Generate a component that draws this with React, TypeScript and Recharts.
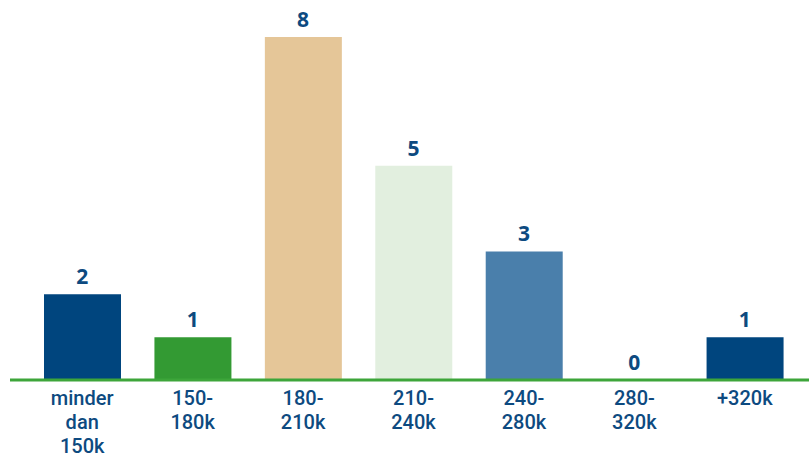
import { ComposedChart, Bar, Line, XAxis, YAxis, Cell, LabelList } from "recharts"

const categories = ["minder dan 150k", "150- 180k", "180- 210k", "210- 240k", "240- 280k", "280- 320k", "+320k"]
const counts = [2, 1, 8, 5, 3, 0, 1]
const barColors = ["#00457e", "#339a33", "#e5c698", "#e2efdf", "#4a7fab", "#00457e", "#00457e"]

const data = categories.map((name, i) => ({ name, count: counts[i] }))

const textColor = "#0d4a80"
const font = "'Open Sans', sans-serif"
const tickFont = "Roboto, sans-serif"

function CategoryTick({ x, y, payload }: any) {
  const lines = String(payload.value).split(" ")
  return (
    <g>
      {lines.map((line, i) => (
        <text
          key={i}
          x={x}
          y={y + 17 + i * 24}
          textAnchor="middle"
          fill={textColor}
          fontFamily={tickFont}
          fontWeight={500}
          fontSize={20}
        >
          {line}
        </text>
      ))}
    </g>
  )
}

export default function App() {
  return (
    <div style={{ position: "fixed", top: 0, left: 0, width: 809, height: 459, background: "#fff" }}>
      <ComposedChart width={809} height={459} data={data} margin={{ top: 37, right: 0, left: 10, bottom: 0 }} barSize={77}>
        <XAxis
          dataKey="name"
          interval={0}
          height={79}
          tickLine={false}
          axisLine={{ stroke: "#3da53a", strokeWidth: 3 }}
          tick={<CategoryTick />}
          padding={{ left: 17, right: 9 }}
        />
        <YAxis hide domain={[0, 8]} />
        <Bar dataKey="count" isAnimationActive={false}>
          {data.map((d, i) => (
            <Cell key={d.name} fill={barColors[i]} />
          ))}
        </Bar>
        {/* invisible series that carries the value labels, so the zero bar gets one too */}
        <Line dataKey="count" stroke="none" dot={false} activeDot={false} isAnimationActive={false}>
          <LabelList
            dataKey="count"
            position="top"
            offset={10}
            fill={textColor}
            fontFamily={font}
            fontWeight={700}
            fontSize={21}
          />
        </Line>
      </ComposedChart>
    </div>
  )
}
